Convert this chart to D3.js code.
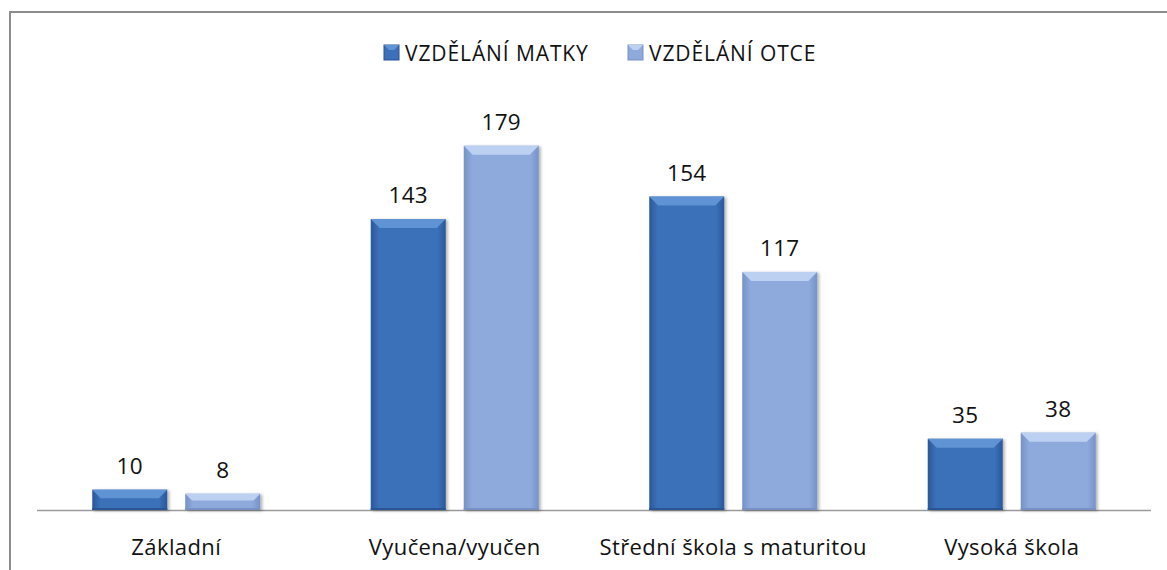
<!DOCTYPE html>
<html>
<head>
<meta charset="utf-8">
<script src="https://cdn.jsdelivr.net/npm/d3@7"></script>
<style>
	body { margin: 0; background: #fff; }
	svg { display: block; font-family: "Open Sans", sans-serif; }
</style>
</head>
<body>
<div id="chart"></div>
<script>

const categories = ["Základní", "Vyučena/vyučen", "Střední škola s maturitou", "Vysoká škola"];
const seriesNames = ["VZDĚLÁNÍ MATKY", "VZDĚLÁNÍ OTCE"];
const matky = [10, 143, 154, 35];
const otce = [8, 179, 117, 38];

const WIDTH = 1167;
const HEIGHT = 570;
const BEVEL = 9;

const palette = [
	{ main: "#3b71b8", edge: "#2a5899", top: "#5f93d4", bottom: "#2a5594" },
	{ main: "#8eaadc", edge: "#7592c7", top: "#bcd0f2", bottom: "#7891c2" }
];

const margin = { top: 103, bottom: 60, left: 37, right: 16 };
const baseY = HEIGHT - margin.bottom;

const svg = d3.select("#chart").append("svg")
	.attr("width", WIDTH)
	.attr("height", HEIGHT);

const defs = svg.append("defs");
const shadow = defs.append("filter").attr("id", "shadow")
	.attr("x", "-10%").attr("y", "-10%").attr("width", "130%").attr("height", "130%");
shadow.append("feDropShadow")
	.attr("dx", 2).attr("dy", 1).attr("stdDeviation", 1.5)
	.attr("flood-color", "#000").attr("flood-opacity", 0.3);

palette.forEach((p, i) => {
	let g = defs.append("linearGradient").attr("id", "grad" + i)
		.attr("x1", 0).attr("x2", 1).attr("y1", 0).attr("y2", 0);
	g.append("stop").attr("offset", "0%").attr("stop-color", p.edge);
	g.append("stop").attr("offset", "11%").attr("stop-color", p.main);
	g.append("stop").attr("offset", "89%").attr("stop-color", p.main);
	g.append("stop").attr("offset", "100%").attr("stop-color", p.edge);
});

// frame (only top and left visible in the reference)
svg.append("path")
	.attr("d", `M10,${HEIGHT} V12 H${WIDTH}`)
	.attr("fill", "none")
	.attr("stroke", "#8c8c8c")
	.attr("stroke-width", 2);

const x0 = d3.scaleBand()
	.domain(categories)
	.range([margin.left, WIDTH - margin.right])
	.paddingInner(0)
	.paddingOuter(0);

const x1 = d3.scaleBand()
	.domain(seriesNames)
	.range([0, x0.bandwidth()])
	.paddingInner(0.1935)
	.paddingOuter(0.594);

const y = d3.scaleLinear()
	.domain([0, 200])
	.range([baseY, margin.top]);

// baseline
svg.append("line")
	.attr("x1", margin.left).attr("x2", WIDTH - margin.right)
	.attr("y1", baseY + 0.5).attr("y2", baseY + 0.5)
	.attr("stroke", "#9a9a9a")
	.attr("stroke-width", 1.5);

const rows = categories.map((c, i) => ({
	category: c,
	values: [matky[i], otce[i]]
}));

const groups = svg.selectAll(".group")
	.data(rows)
	.enter()
	.append("g")
	.attr("class", "group")
	.attr("transform", d => `translate(${x0(d.category)},0)`);

groups.each(function (d) {
	let g = d3.select(this);
	d.values.forEach((v, i) => {
		let p = palette[i];
		let bx = x1(seriesNames[i]);
		let bw = x1.bandwidth();
		let by = y(v);
		let bh = baseY - by;
		let b = Math.min(BEVEL, bh / 2.4);
		let bar = g.append("g").attr("filter", "url(#shadow)");
		bar.append("rect")
			.attr("x", bx).attr("y", by)
			.attr("width", bw).attr("height", bh)
			.attr("fill", `url(#grad${i})`);
		// top bevel
		bar.append("polygon")
			.attr("points", [[bx, by], [bx + bw, by], [bx + bw - b, by + b], [bx + b, by + b]].join(" "))
			.attr("fill", p.top);
		// bottom edge
		bar.append("rect")
			.attr("x", bx).attr("y", by + bh - 2)
			.attr("width", bw).attr("height", 2)
			.attr("fill", p.bottom);
		g.append("text")
			.attr("x", bx + bw / 2)
			.attr("y", by - 16)
			.attr("text-anchor", "middle")
			.attr("font-size", 22.5)
			.attr("letter-spacing", 0.3)
			.attr("fill", "#111")
			.text(v);
	});
});

// category labels
svg.selectAll(".cat")
	.data(categories)
	.enter()
	.append("text")
	.attr("class", "cat")
	.attr("x", d => x0(d) + x0.bandwidth() / 2)
	.attr("y", 555)
	.attr("text-anchor", "middle")
	.attr("font-size", 22)
	.attr("letter-spacing", 0.4)
	.attr("fill", "#111")
	.text(d => d);

// legend
const legendX = [384, 628];
const legend = svg.selectAll(".legend")
	.data(seriesNames)
	.enter()
	.append("g")
	.attr("class", "legend")
	.attr("transform", (d, i) => `translate(${legendX[i]},45)`);

legend.append("rect")
	.attr("width", 15).attr("height", 15)
	.attr("fill", (d, i) => palette[i].main)
	.attr("stroke", (d, i) => palette[i].bottom)
	.attr("stroke-width", 1);
legend.append("polygon")
	.attr("points", "0,0 15,0 10,5 5,5")
	.attr("fill", (d, i) => palette[i].top);

legend.append("text")
	.attr("x", 21)
	.attr("y", 16)
	.attr("font-size", 21)
	.attr("letter-spacing", 0.9)
	.attr("fill", "#111")
	.text(d => d);

</script>
</body>
</html>
